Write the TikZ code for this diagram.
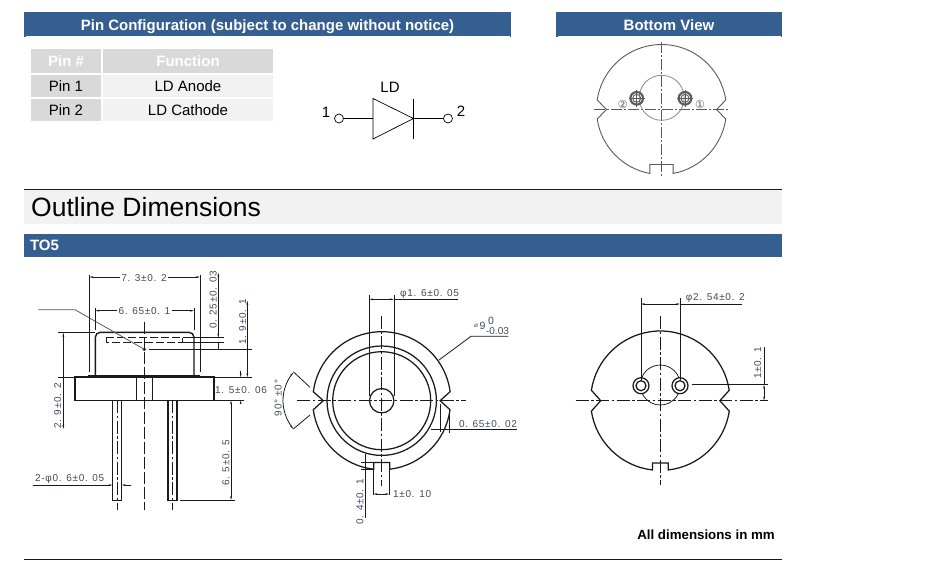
\documentclass[tikz,border=0pt]{standalone}
\usepackage{fontspec}
\usetikzlibrary{arrows.meta}
\setmainfont{Liberation Sans}
\newfontfamily\dimfont[LetterSpace=7]{Liberation Sans}
\newfontfamily\symfont{DejaVu Sans}
\definecolor{bannerblue}{HTML}{365F91}
\definecolor{headgray}{HTML}{D9D9D9}
\definecolor{cellgray}{HTML}{F2F2F2}
\definecolor{dimtext}{HTML}{3F4C5E}
\definecolor{ink}{HTML}{1A1A1A}
\definecolor{bottomink}{HTML}{5A5A5A}
\tikzset{
  banner/.style={fill=bannerblue,text=white,inner sep=0pt,text height=14pt,text depth=2.5pt,font=\fontsize{15}{15}\selectfont\bfseries},
  cell/.style={inner sep=0pt,text=black,font=\fontsize{15}{15}\selectfont},
  headcell/.style={cell,fill=headgray,text=white,font=\fontsize{15}{15}\selectfont\bfseries},
  bodycell/.style={cell,fill=cellgray},
  keycell/.style={cell,fill=headgray},
  term/.style={circle,draw=black,line width=.7pt,inner sep=0pt,minimum size=9pt},
  difftext/.style={inner sep=0pt,text=black,font=\fontsize{15}{15}\selectfont},
  dimlabel/.style={inner sep=0pt,text=dimtext,font=\dimfont\fontsize{10}{10}\selectfont},
  part/.style={draw=ink,line width=1.25pt},
  thickpart/.style={draw=ink,line width=1.4pt},
  thin/.style={draw=ink,line width=.8pt},
  center/.style={draw=ink,line width=.75pt,dash pattern=on 13pt off 2.5pt on 2.5pt off 2.5pt},
  hidden/.style={draw=ink,line width=.85pt,dash pattern=on 8pt off 3pt},
  dimarrow/.style={draw=ink,line width=.8pt,{Stealth[length=4pt,width=1.8pt]}-{Stealth[length=4pt,width=1.8pt]}},
  bcenter/.style={draw=bottomink,line width=.7pt,dash pattern=on 11pt off 2pt on 2pt off 2pt},
}
\newcommand{\notchdisc}[7]{%
% style, r, angle side, angle bottom, tip x, half width bottom, depth bottom
\draw[#1] (#3:#2pt) arc[start angle=#3,end angle=180-#3,radius=#2pt] -- (-#5,0) -- (180+#3:#2pt)
 arc[start angle=180+#3,end angle=270-#4,radius=#2pt] -- ++(0,-#7) -- ++(2*#6,0) -- ++(0,#7)
 arc[start angle=270+#4,end angle=360-#3,radius=#2pt] -- (#5,0) -- cycle;}
\begin{document}
\begin{tikzpicture}[x=1pt,y=-1pt]
\useasboundingbox (0,0) rectangle (940,560);
\fill[white] (0,0) rectangle (940,560);
% banners
\node[banner,minimum width=487pt,minimum height=24.7pt] (pinbanner) at (267.5,24.35) {Pin Configuration (subject to change without notice)};
\node[banner,minimum width=226pt,minimum height=24.7pt] (bottombanner) at (669,24.35) {Bottom View};
\fill[white] (26,35.8) rectangle (509.6,37);
\fill[white] (558,35.8) rectangle (780.6,37);
% table
\node[headcell,minimum width=70pt,minimum height=24pt] (h1) at (66,61) {Pin \#};
\node[headcell,minimum width=170pt,minimum height=24pt] (h2) at (188,61) {Function};
\node[keycell,minimum width=70pt,minimum height=22pt] (k1) at (66,86) {Pin 1};
\node[bodycell,minimum width=170pt,minimum height=22pt] (f1) at (188,86) {LD Anode};
\node[keycell,minimum width=70pt,minimum height=22pt] (k2) at (66,110) {Pin 2};
\node[bodycell,minimum width=170pt,minimum height=22pt] (f2) at (188,110) {LD Cathode};
% diode
\coordinate (ta) at (373,98.5);
\coordinate (tb) at (373,139);
\coordinate (tip) at (413.5,118.5);
\coordinate (ain) at (373,118.5);
\coordinate (bara) at (413.5,98.5);
\coordinate (barb) at (413.5,139);
\node[term] (t1) at (339,118.5) {};
\node[term] (t2) at (448,118.5) {};
\node[difftext] (ld) at (390,87) {LD};
\node[difftext] (n1) at (326,112) {1};
\node[difftext] (n2) at (461,111) {2};
\draw[black,line width=.7pt] (ta) -- (tb) -- (tip) -- cycle;
\draw[black,line width=.7pt] (bara) -- (barb);
\draw[black,line width=.7pt] (t1) -- (ain);
\draw[black,line width=.7pt] (tip) -- (t2);
% bottom view
\begin{scope}[shift={(661.5,109.5)}]
\notchdisc{draw=bottomink,line width=.9pt}{65}{8.4}{10.3}{55}{11.6}{9}
\end{scope}
\draw[bcenter] (594,109.5) -- (728,109.5);
\draw[bcenter] (661.7,42) -- (661.7,177);
\draw[draw=bottomink!70,line width=.8pt] (661.7,97.8) circle[radius=22.5pt];
\foreach \px in {636.7,685}{
 \draw[draw=bottomink,line width=2.1pt] (\px,98.3) circle[radius=6.3pt];
 \draw[draw=bottomink,line width=.9pt] (\px,98.3) circle[radius=4pt];
 \draw[draw=bottomink,line width=.7pt] (\px-8,98.3) -- (\px+8,98.3);
 \draw[draw=bottomink,line width=.9pt] (\px,90) -- (\px,107);
}
\node[inner sep=0pt,text=bottomink,font=\symfont\fontsize{11}{11}\selectfont] (c2) at (622.7,104) {②};
\node[inner sep=0pt,text=bottomink,font=\symfont\fontsize{11}{11}\selectfont] (c1) at (700,104) {①};
% outline band
\fill[cellgray] (24,190) rectangle (782,224);
\draw[ink,line width=.7pt] (24,189.5) -- (782,189.5);
\node[anchor=base west,inner sep=0pt,text=black,font=\fontsize{26.5}{26.5}\selectfont] (outline) at (31,216) {Outline Dimensions};
\node[banner,minimum width=758pt,minimum height=23pt,text width=746pt,align=left] (to5) at (403,245) {TO5};
\node[inner sep=0pt,text=black,font=\fontsize{13.3}{13.3}\selectfont\bfseries] (allmm) at (706,535) {All dimensions in mm};
\draw[ink,line width=.7pt] (24,559.5) -- (782,559.5);

% ===== side view
\draw[center,dash pattern=on 12pt off 3pt] (144.3,321.7) -- (144.3,510);
\draw[center] (117,400) -- (117,510);
\draw[center] (172.7,400) -- (172.7,510);
\draw[thickpart] (75,377) rectangle (214,400.3);
\draw[thickpart] (136.7,377) -- (136.7,400.3);
\draw[thickpart] (152.3,377) -- (152.3,400.3);
\fill[ink] (88.3,375.4) rectangle (200,377.5);
\draw[thickpart,rounded corners=5pt] (95.3,376) -- (95.3,332.3) -- (194,332.3) -- (194,376);
\draw[hidden] (106,337.7) -- (182.7,337.7) -- (182.7,342.7);
\draw[hidden] (106,337.7) -- (106,342.7) -- (182.7,342.7);
\draw[part] (112.7,400.3) rectangle (121.7,500.3);
\draw[part] (168,400.3) rectangle (177,500.3);
\fill[ink] (144.3,349.3) circle[radius=1.8pt];
\draw[draw=bottomink,line width=.8pt] (38.3,309.7) -- (75,309.7) -- (144.3,349.3);
% 7.3
\draw[thin] (89.3,275) -- (89.3,372);
\draw[thin] (200,275) -- (200,372);
\draw[dimarrow] (89.3,277) -- (200,277);
\node[dimlabel,fill=white,inner xsep=1.5pt] (d73) at (144,278) {7. 3±0. 2};
% 6.65
\draw[thin] (95.3,308) -- (95.3,330);
\draw[thin] (194,308) -- (194,330);
\draw[dimarrow] (95.3,310.7) -- (194,310.7);
\node[dimlabel,fill=white,inner xsep=1.5pt] (d665) at (144.5,311.5) {6. 65±0. 1};
% 0.25
\node[dimlabel,rotate=90] (d025) at (213.3,300) {0. 25±0. 03};
\draw[dimarrow] (218.3,272.7) -- (218.3,337.7);
\draw[thin] (218.3,342.7) -- (218.3,350.3);
\draw[thin] (183,337.7) -- (224,337.7);
\draw[thin] (183,342.7) -- (224,342.7);
\draw[thin] (149.3,349.3) -- (252,349.3);
% 1.9
\node[dimlabel,rotate=90] (d19) at (242.7,322) {1. 9±0. 1};
\draw[dimarrow] (247.3,300.7) -- (247.3,377.3);
\draw[thin] (214,377.3) -- (251.7,377.3);
% 2.9
\node[dimlabel,rotate=90] (d29) at (57.7,406) {2. 9±0. 2};
\draw[dimarrow] (63.3,332.7) -- (63.3,429);
\draw[thin] (58.3,332.7) -- (95,332.7);
\draw[thin] (58.3,377.3) -- (75,377.3);
% 1.5
\node[dimlabel,anchor=west] (d15) at (215,390) {1. 5±0. 06};
\draw[thin,-{Stealth[length=4pt,width=1.8pt]}] (240.7,371) -- (240.7,377.3);
\draw[thin,-{Stealth[length=4pt,width=1.8pt]}] (240.7,404) -- (240.7,400.3);
\draw[thin] (214,400.3) -- (244,400.3);
% 6.5
\node[dimlabel,rotate=90] (d65) at (226,463) {6. 5±0. 5};
\draw[dimarrow] (231,400.3) -- (231,500);
\draw[thin] (180,500) -- (235,500);
% 2-phi
\node[dimlabel,anchor=west] (dpin) at (35,479) {2-φ0. 6±0. 05};
\draw[thin,-{Stealth[length=4pt,width=1.8pt]}] (32.7,485) -- (112.7,485);
\draw[thin,-{Stealth[length=4pt,width=1.8pt]}] (131,485) -- (121.7,485);

% ===== top view
\begin{scope}[shift={(381.7,400.7)}]
\notchdisc{part}{69}{7.5}{6.7}{58.4}{8}{6.8}
\end{scope}
\draw[part] (381.7,400.7) circle[radius=54.7pt];
\draw[part] (381.7,400.7) circle[radius=49pt];
\draw[part] (381.7,400.7) circle[radius=12.2pt];
\draw[center] (297.3,400.7) -- (466,400.7);
\draw[center] (381.7,315.7) -- (381.7,485.7);
% phi1.6
\draw[thin] (369.3,295) -- (369.3,396);
\draw[thin] (394,295) -- (394,396);
\draw[dimarrow] (369.3,299.3) -- (394,299.3);
\draw[thin] (394,299.3) -- (458.3,299.3);
\node[dimlabel,anchor=west] (d16) at (400,294.3) {φ1. 6±0. 05};
% phi 9
\draw[thin] (508.3,336.3) -- (471,336.3) -- (439,360);
\node[inner sep=0pt,text=dimtext,font=\symfont\fontsize{6.5}{6.5}\selectfont] (d9a) at (476,326) {⌀};
\node[inner sep=0pt,text=dimtext,font=\fontsize{10.5}{10.5}\selectfont] (d9b) at (482.5,326) {9};
\node[inner sep=0pt,text=dimtext,font=\fontsize{10.5}{10.5}\selectfont] (d9c) at (491,320.7) {0};
\node[inner sep=0pt,text=dimtext,font=\fontsize{10}{10}\selectfont] (d9d) at (497.5,331.5) {-0.03};
% 90 deg
\node[dimlabel,rotate=90] (d90) at (278.3,398) {90° ±0°};
\draw[thin] (293.3,371.7) -- (310,387.3);
\draw[thin] (293.3,429) -- (310,415);
\draw[thin,{Stealth[length=4pt,width=1.8pt]}-{Stealth[length=4pt,width=1.8pt]}] (293.3,372.3) .. controls (280,390) and (280,411) .. (293.3,429);
% 0.65
\node[dimlabel] (d065) at (488,424) {0. 65±0. 02};
\draw[thin] (430.7,429) -- (517.3,429);
\draw[thin] (440.7,404) -- (440.7,431.7);
\draw[thin] (449.3,410) -- (449.3,433.3);
% 0.4
\node[dimlabel,rotate=90] (d04) at (360,501.7) {0. 4±0. 1};
\draw[thin] (365,454) -- (365,518);
\draw[thin] (360.7,462.3) -- (373.3,462.3);
\draw[thin] (360.7,469) -- (373.3,469);
% 1.0
\draw[thin] (373.3,469) -- (373.3,495);
\draw[thin] (389.3,469) -- (389.3,495);
\draw[dimarrow] (373.3,494) -- (389.3,494);
\node[dimlabel,anchor=west] (d10) at (393,494) {1±0. 10};

% ===== bottom drawing
\begin{scope}[shift={(660.3,400.7)}]
\notchdisc{part}{69.7}{8.6}{6.4}{59.6}{7.8}{7}
\end{scope}
\draw[draw=ink,line width=.75pt] (660.3,385) circle[radius=20pt];
\foreach \px in {641,680}{
 \draw[part,fill=white] (\px,385.7) circle[radius=8pt];
 \draw[part] (\px,385.7) circle[radius=5pt];
}
\draw[center] (575.7,400.7) -- (768.3,400.7);
\draw[center] (660.3,316) -- (660.3,485);
\draw[thin] (641,298.3) -- (641,380);
\draw[thin] (680,298.3) -- (680,380);
\draw[dimarrow] (641,304) -- (680,304);
\draw[thin] (680,304) -- (741.7,304);
\node[dimlabel,anchor=west] (d254) at (685.7,298) {φ2. 54±0. 2};
\node[dimlabel,rotate=90] (d1) at (757.7,363) {1±0. 1};
\draw[dimarrow] (764,384.7) -- (764,400.7);
\draw[thin] (764,346.7) -- (764,384.7);
\draw[thin] (691.7,384.7) -- (768.3,384.7);
\end{tikzpicture}
\end{document}
